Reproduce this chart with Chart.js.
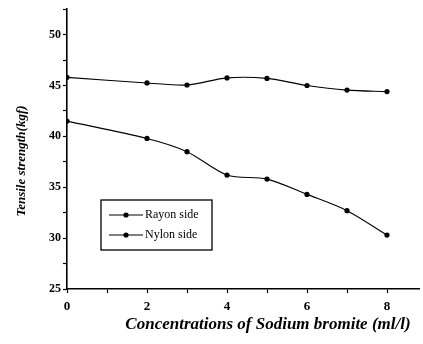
<!DOCTYPE html>
<html>
<head>
<meta charset="utf-8">
<script src="https://cdn.jsdelivr.net/npm/chart.js@4"></script>
<style>
  html, body { margin: 0; padding: 0; background: #fff; }
  #wrap { width: 423px; height: 344px; position: relative; }
</style>
</head>
<body>
<div id="wrap"><canvas id="c" width="423" height="344"></canvas></div>
<script>
const concentrations = [0, 2, 3, 4, 5, 6, 7, 8];
const rayonSide = [41.5, 39.8, 38.5, 36.2, 35.8, 34.3, 32.7, 30.3];
const nylonSide = [45.8, 45.25, 45.05, 45.75, 45.7, 45.0, 44.55, 44.4];
const seriesLabels = ['Rayon side', 'Nylon side'];
const xTickValues = [0, 1, 2, 3, 4, 5, 6, 7, 8];
const xTitle = 'Concentrations of Sodium bromite (ml/l)';
const yTitle = 'Tensile strength(kgf)';

const toPts = (xs, ys) => xs.map((x, i) => ({ x: x, y: ys[i] }));

const decorPlugin = {
  id: 'decor',
  afterDraw(chart) {
    const ctx = chart.ctx;
    ctx.save();
    // axis titles
    ctx.fillStyle = '#000';
    ctx.textAlign = 'center';
    ctx.textBaseline = 'middle';
    ctx.font = 'italic bold 17px "Liberation Serif"';
    ctx.fillText(xTitle, 268, 325);
    ctx.save();
    ctx.translate(22, 161);
    ctx.rotate(-Math.PI / 2);
    ctx.font = 'italic bold 13px "Liberation Serif"';
    ctx.fillText(yTitle, 0, 0);
    ctx.restore();
    // legend box
    const bx = 101, by = 200, bw = 111, bh = 50;
    ctx.strokeStyle = '#000';
    ctx.lineWidth = 1.3;
    ctx.strokeRect(bx, by, bw, bh);
    chart.data.datasets.forEach((ds, i) => {
      const y = by + 15 + i * 20;
      ctx.beginPath();
      ctx.moveTo(bx + 8, y);
      ctx.lineTo(bx + 42, y);
      ctx.lineWidth = 1;
      ctx.stroke();
      ctx.beginPath();
      ctx.arc(bx + 25, y, 2.6, 0, Math.PI * 2);
      ctx.fill();
      ctx.font = '12px "Liberation Serif"';
      ctx.textAlign = 'left';
      ctx.fillText(ds.label, bx + 44, y);
    });
    ctx.restore();
  }
};

new Chart(document.getElementById('c'), {
  type: 'line',
  data: {
    datasets: [
      { label: seriesLabels[0], data: toPts(concentrations, rayonSide) },
      { label: seriesLabels[1], data: toPts(concentrations, nylonSide) }
    ]
  },
  options: {
    responsive: false,
    animation: false,
    layout: { padding: { top: 5, right: 0, left: 0, bottom: 0 } },
    elements: {
      line: { borderColor: '#000', borderWidth: 1.1, tension: 0.3, fill: false },
      point: { radius: 2.6, backgroundColor: '#000', borderColor: '#000', borderWidth: 0 }
    },
    plugins: {
      legend: { display: false },
      tooltip: { enabled: false }
    },
    scales: {
      x: {
        type: 'linear',
        min: 0,
        max: 8.8,
        afterFit(s) { s.height = 55; },
        afterBuildTicks(s) { s.ticks = xTickValues.map(v => ({ value: v })); },
        border: { display: true, color: '#000', width: 1.6 },
        grid: { drawOnChartArea: false, drawTicks: true, tickLength: 4, color: '#000', tickWidth: 1.2 },
        ticks: {
          autoSkip: false,
          color: '#000',
          padding: 6,
          font: { family: '"Liberation Serif"', size: 13, weight: 'bold' },
          callback: v => (v % 2 === 0 ? String(v) : '')
        }
      },
      y: {
        type: 'linear',
        min: 25,
        max: 52.5,
        afterFit(s) { s.width = 67; },
        border: { display: true, color: '#000', width: 1.6 },
        grid: { drawOnChartArea: false, drawTicks: true, tickLength: 4, color: '#000', tickWidth: 1.2 },
        ticks: {
          stepSize: 2.5,
          color: '#000',
          padding: 2,
          font: { family: '"Liberation Serif"', size: 12, weight: 'bold' },
          callback: v => (v % 5 === 0 ? String(v) : '')
        }
      }
    }
  },
  plugins: [decorPlugin]
});
</script>
</body>
</html>
